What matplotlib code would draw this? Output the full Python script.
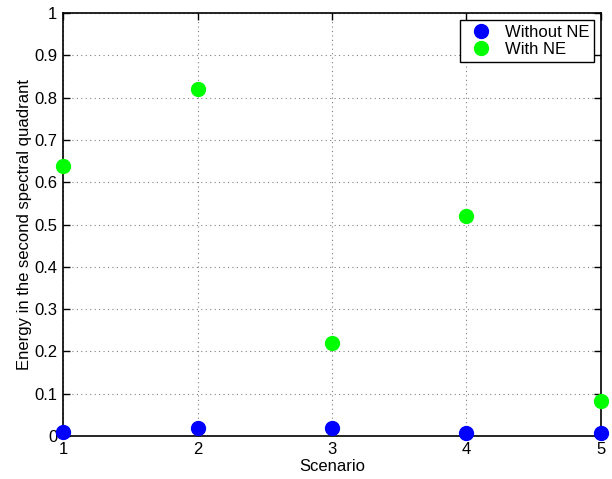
import matplotlib
matplotlib.use("Agg")
import matplotlib.pyplot as plt

scenarios = [1, 2, 3, 4, 5]
without_ne = [0.010, 0.019, 0.018, 0.007, 0.006]
with_ne = [0.638, 0.821, 0.221, 0.521, 0.083]
xticks = [1, 2, 3, 4, 5]
yticks = [0, 0.1, 0.2, 0.3, 0.4, 0.5, 0.6, 0.7, 0.8, 0.9, 1]

plt.rcParams['font.family'] = ['Liberation Sans', 'DejaVu Sans']
fig = plt.figure(figsize=(6.12, 4.79), dpi=100)
ax = fig.add_axes([0.103, 0.0898, 0.879, 0.883])

ax.plot(scenarios, without_ne, 'o', color='#0000ff', markersize=10, label='Without NE', clip_on=False, zorder=3)
ax.plot(scenarios, with_ne, 'o', color='#00ff00', markersize=10, label='With NE', clip_on=False, zorder=3)

ax.set_xlim(1, 5)
ax.set_ylim(0, 1)
ax.set_xticks(xticks)
ax.set_yticks(yticks)
ax.set_yticklabels(['0', '0.1', '0.2', '0.3', '0.4', '0.5', '0.6', '0.7', '0.8', '0.9', '1'])
ax.grid(True, linestyle=(0, (1, 3)), color='#808080', linewidth=0.8)
ax.tick_params(direction='in', top=True, right=True, labelsize=12, length=5, width=1, pad=4)
for s in ax.spines.values():
    s.set_linewidth(1.2)
ax.set_xlabel('Scenario', fontsize=12, labelpad=2)
ax.set_ylabel('Energy in the second spectral quadrant', fontsize=12, labelpad=2)

leg = ax.legend(loc='upper right', fontsize=12, fancybox=False, framealpha=1,
                edgecolor='black', borderaxespad=0.4, handletextpad=0.4, borderpad=0.3, labelspacing=0.15)
leg.get_frame().set_linewidth(1.0)

fig.savefig('out.png', dpi=100)
